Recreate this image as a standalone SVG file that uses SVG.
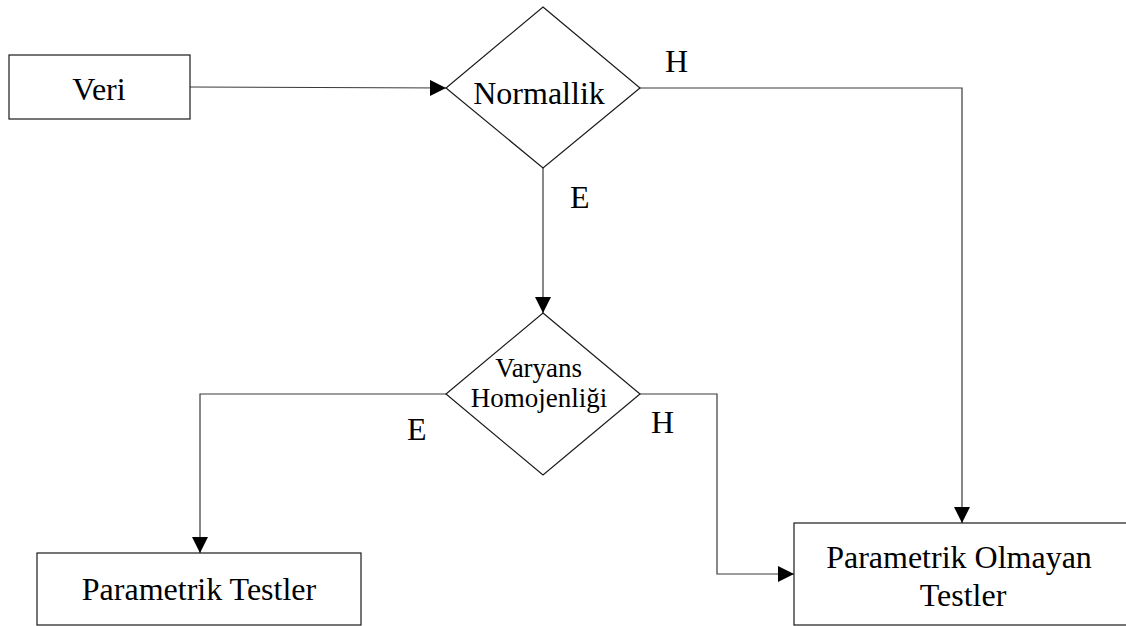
<svg xmlns="http://www.w3.org/2000/svg" width="1126" height="626" viewBox="0 0 1126 626">
  <style>
    .shape { fill: #ffffff; stroke: #1a1a1a; stroke-width: 1.2; }
    .link { fill: none; stroke: #3a3a3a; stroke-width: 1.2; }
    .lbl { font-family: "Liberation Serif", "Times New Roman", serif; fill: #000000; }
    .big { font-size: 32px; }
    .small { font-size: 27px; }
  </style>
  <defs>
    <marker id="arrow" viewBox="0 0 16 16" refX="16" refY="8" markerWidth="16" markerHeight="16" markerUnits="userSpaceOnUse" orient="auto">
      <path d="M0,0 L16,8 L0,16 Z" fill="#000000"/>
    </marker>
  </defs>
  <rect width="1126" height="626" fill="#ffffff"/>

  <!-- connectors -->
  <g id="connectors">
    <path class="link" d="M190,87 L446,88" marker-end="url(#arrow)"/>
    <path class="link" d="M640,88 L962,88 L962,523" marker-end="url(#arrow)"/>
    <path class="link" d="M543,168 L543,313" marker-end="url(#arrow)"/>
    <path class="link" d="M446,394 L200,394 L200,553" marker-end="url(#arrow)"/>
    <path class="link" d="M640,394 L717,394 L717,574 L794,574" marker-end="url(#arrow)"/>
  </g>

  <!-- branch labels -->
  <g id="edge-labels" class="lbl big">
    <text x="665" y="72">H</text>
    <text x="570" y="208">E</text>
    <text x="407" y="440">E</text>
    <text x="651" y="433">H</text>
  </g>

  <g id="node-veri">
    <rect class="shape" x="9" y="55" width="181" height="64"/>
    <text class="lbl big" x="99" y="100" text-anchor="middle">Veri</text>
  </g>

  <g id="node-normallik">
    <polygon class="shape" points="543,7 640,88 543,168 446,88"/>
    <text class="lbl big" x="539" y="104" text-anchor="middle">Normallik</text>
  </g>

  <g id="node-varyans">
    <polygon class="shape" points="543,313 640,394 543,475 446,394"/>
    <text class="lbl small" text-anchor="middle">
      <tspan x="542" y="377">Varyans</tspan>
      <tspan x="539" y="407">Homojenliği</tspan>
    </text>
  </g>

  <g id="node-parametrik">
    <rect class="shape" x="37" y="553" width="324" height="72"/>
    <text class="lbl big" x="199" y="600" text-anchor="middle">Parametrik Testler</text>
  </g>

  <g id="node-parametrik-olmayan">
    <rect class="shape" x="794" y="523" width="340" height="102"/>
    <text class="lbl big" text-anchor="middle">
      <tspan x="963" y="568">Parametrik Olmayan</tspan>
      <tspan x="963" y="606">Testler</tspan>
    </text>
  </g>
</svg>
